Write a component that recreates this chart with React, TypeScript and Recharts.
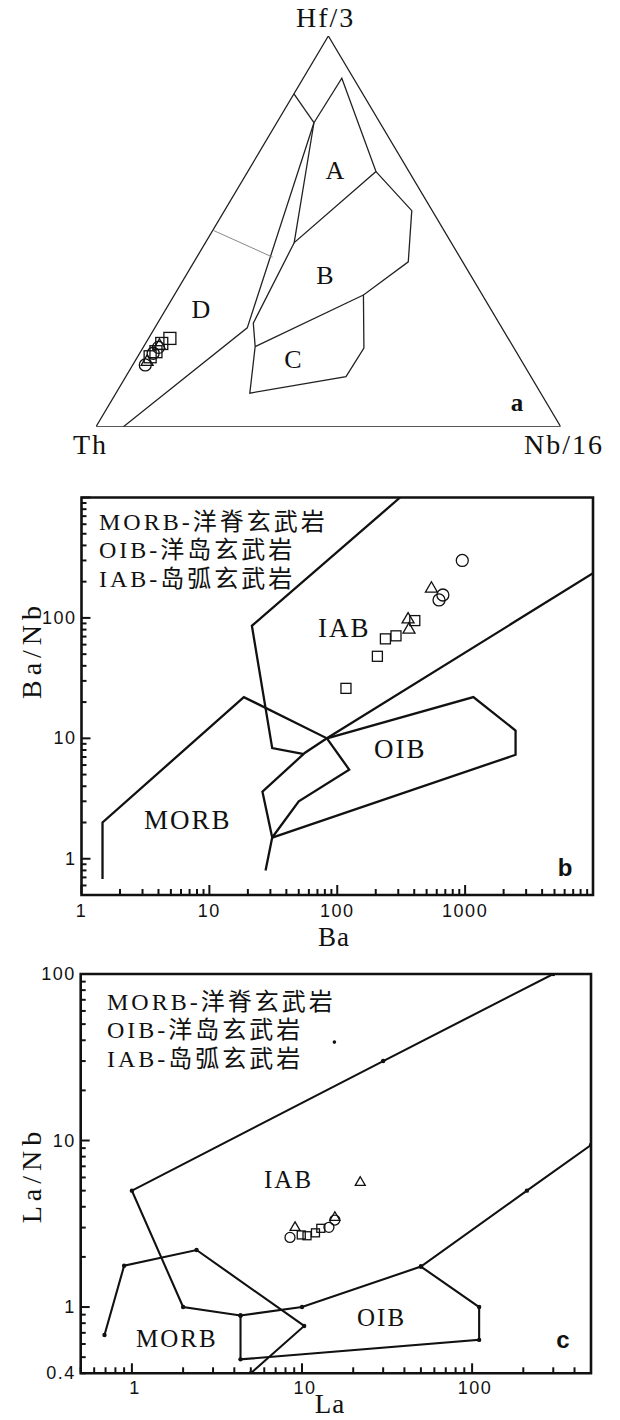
import React from 'react';
import { ScatterChart, Scatter, XAxis, YAxis, ReferenceArea } from 'recharts';

// ---------------- Panel a : Hf/3 - Th - Nb/16 ternary (values in %, order [Th, Hf/3, Nb/16]) ----------------
const aOutline = [[100, 0, 0], [0, 100, 0], [0, 0, 100], [100, 0, 0]];
const aDTop = [[14.8, 85.2, 0], [14.2, 77.8, 8.0]];
const aFieldA = [[14.2, 77.8, 8.0], [2.5, 89.2, 8.3], [7.1, 65.3, 27.6], [33.8, 47.1, 19.1], [14.2, 77.8, 8.0]];
const aDRight = [[94.1, 0, 5.9], [54.8, 25.3, 19.9], [14.2, 77.8, 8.0]];
const aFieldBC = [[33.8, 47.1, 19.1], [52.9, 26.5, 20.6], [55.5, 20.5, 24.0], [62.6, 8.6, 28.8], [39.8, 12.8, 47.4], [32.3, 20.1, 47.6], [25.6, 33.7, 40.7], [11.7, 42.2, 46.1], [4.4, 55.3, 40.3], [7.1, 65.3, 27.6]];
const aLineBC = [[55.5, 20.5, 24.0], [25.6, 33.7, 40.7]];
const aGray = [[49.7, 50.3, 0], [40.3, 43.4, 16.3]];
const aSquares = [[72.8, 22.6, 4.6], [79.4, 17.9, 2.7], [77.5, 19.2, 3.3], [75.2, 21.3, 3.5]];
const aCircles = [[81.5, 15.8, 2.7], [78.3, 18.8, 2.9], [76.4, 20.3, 3.3]];
const aTriangles = [[80.7, 16.6, 2.7], [76.0, 20.7, 3.3]];

// ---------------- Panel b : Ba vs Ba/Nb ----------------
const bMorb = [[1.46, 0.68], [1.46, 2.0], [18.6, 22], [83, 10], [124, 5.5], [50, 3.0], [31, 1.5]];
const bIabUpper = [[310, 1000], [21.5, 86], [31, 8.3], [55, 7.4]];
const bIabLower = [[10000, 235], [83, 10], [56, 7.6], [26, 3.6], [31, 1.5], [27.5, 0.8]];
const bOib = [[31, 1.5], [2480, 7.3], [2480, 11.6], [1160, 22], [83, 10]];
const bSquares = [[404, 95], [288, 71], [238, 67], [206, 48], [117, 26]];
const bTriangles = [[545, 175], [358, 97], [364, 80]];
const bCircles = [[950, 300], [670, 155], [625, 141]];
const bXLabels = [1, 10, 100, 1000];
const bYLabels = [1, 10, 100];

// ---------------- Panel c : La vs La/Nb ----------------
const cIab = [[300, 100], [30, 30], [1, 5], [2, 1], [4.35, 0.89], [10, 1.0], [50, 1.75], [210, 5], [500, 9.4]];
const cMorb = [[0.69, 0.68], [0.9, 1.77], [2.4, 2.2], [10.3, 0.77], [5, 0.4]];
const cOib = [[4.35, 0.89], [4.35, 0.485], [110, 0.635], [110, 1.0], [50, 1.75]];
const cStray = [[15.5, 39]];
const cSquares = [[9.9, 2.71], [10.7, 2.68], [12.0, 2.79], [12.9, 2.97]];
const cCircles = [[8.5, 2.62], [14.4, 3.01], [15.6, 3.33]];
const cTriangles = [[22, 5.6], [9.1, 3.0], [15.6, 3.45]];
const cXLabels = [1, 10, 100];
const cYLabels = [0.4, 1, 10, 100];

const legendLines = ['MORB-洋脊玄武岩', 'OIB-洋岛玄武岩', 'IAB-岛弧玄武岩'];

// ---------------- helpers ----------------
const ter = (arr: number[][]) =>
  arr.map((p) => {
    const s = p[0] + p[1] + p[2];
    const hf = p[1] / s;
    const nb = p[2] / s;
    return { x: nb + hf / 2, y: hf };
  });
const xy = (arr: number[][]) => arr.map((p) => ({ x: p[0], y: p[1] }));
const logTicks = (from: number, to: number) => {
  const out: number[] = [];
  for (let d = from; d <= to; d *= 10) {
    for (let k = 1; k <= 9; k++) out.push(+(k * d).toPrecision(6));
  }
  return out;
};
const bXTicks = logTicks(1, 1000).concat([10000]);
const bYTicks = [0.5, 0.6, 0.7, 0.8, 0.9].concat(logTicks(1, 100)).concat([1000]);
const cXTicks = [0.5, 0.6, 0.7, 0.8, 0.9].concat(logTicks(1, 10)).concat([100, 200, 300, 400, 500]);
const cYTicks = [0.4, 0.5, 0.6, 0.7, 0.8, 0.9].concat(logTicks(1, 10)).concat([100]);

const SERIF = "'Liberation Serif', 'Noto Sans CJK SC', serif";
const SANS = "'Liberation Sans', Arial, sans-serif";
const INK = '#111';

const noShape = () => <g />;
const dot = (r: number) => (p: any) => <circle cx={p.cx} cy={p.cy} r={r} fill={INK} />;
const sq = (s: number) => (p: any) => (
  <rect x={p.cx - s / 2} y={p.cy - s / 2} width={s} height={s} fill="none" stroke={INK} strokeWidth={1.3} />
);
const ci = (r: number) => (p: any) => <circle cx={p.cx} cy={p.cy} r={r} fill="none" stroke={INK} strokeWidth={1.3} />;
const tri = (s: number) => (p: any) => {
  const h = s * 0.866;
  const pts = `${p.cx},${p.cy - (h * 2) / 3} ${p.cx - s / 2},${p.cy + h / 3} ${p.cx + s / 2},${p.cy + h / 3}`;
  return <polygon points={pts} fill="none" stroke={INK} strokeWidth={1.3} />;
};

const isMajor = (v: number) => {
  const lg = Math.log10(v);
  return Math.abs(lg - Math.round(lg)) < 1e-6;
};
const inList = (v: number, l: number[]) => l.some((q) => Math.abs(q - v) < 1e-9);

// bottom axis has height 1, so its tick anchor sits 1px below the plot edge
const makeXTick = (labels: number[], dx: number, dy: number) => (props: any) => {
  const { x, payload } = props;
  const y = props.y - 1;
  const v = payload.value;
  const len = isMajor(v) ? 9 : 5;
  return (
    <g>
      <line x1={x} y1={y} x2={x} y2={y - len} stroke={INK} strokeWidth={2} />
      {inList(v, labels) && (
        <text x={x + dx} y={y + dy} textAnchor="middle" fontFamily={SANS} fontSize={18} letterSpacing={1.5} fill={INK}>
          {String(v)}
        </text>
      )}
    </g>
  );
};
const makeYTick = (labels: number[], dx: number, dy: number) => (props: any) => {
  const { x, y, payload } = props;
  const v = payload.value;
  const len = isMajor(v) ? 9 : 5;
  return (
    <g>
      <line x1={x} y1={y} x2={x + len} y2={y} stroke={INK} strokeWidth={2} />
      {inList(v, labels) && (
        <text x={x + dx} y={y + dy} textAnchor="end" fontFamily={SANS} fontSize={18} letterSpacing={1.5} fill={INK}>
          {String(v)}
        </text>
      )}
    </g>
  );
};

const T = (props: any) => <text fontFamily={SERIF} fill={INK} {...props} />;
const overlayStyle: React.CSSProperties = { position: 'absolute', left: 0, top: 0, pointerEvents: 'none', overflow: 'visible' };

// ---------------- Panels ----------------
function PanelA() {
  const line = (d: number[][], key: string, stroke = '#222', w = 1.3) => (
    <Scatter key={key} data={ter(d)} line={{ stroke, strokeWidth: w }} shape={noShape} isAnimationActive={false} />
  );
  return (
    <div style={{ position: 'absolute', left: 0, top: 0, width: 620, height: 470 }}>
      <ScatterChart width={620} height={470} margin={{ top: 36, right: 59.3, bottom: 43.3, left: 96 }}>
        <XAxis type="number" dataKey="x" domain={[0, 1]} hide allowDataOverflow />
        <YAxis type="number" dataKey="y" domain={[0, 1]} hide allowDataOverflow />
        {line(aOutline, 'o', '#222', 1.3)}
        {line(aDTop, 'dt')}
        {line(aFieldA, 'fa')}
        {line(aDRight, 'dr')}
        {line(aFieldBC, 'fbc')}
        {line(aLineBC, 'lbc')}
        {line(aGray, 'g', '#888', 1)}
        <Scatter data={ter(aSquares)} shape={sq(12)} isAnimationActive={false} />
        <Scatter data={ter(aCircles)} shape={ci(6)} isAnimationActive={false} />
        <Scatter data={ter(aTriangles)} shape={tri(12)} isAnimationActive={false} />
      </ScatterChart>
      <svg width={620} height={470} style={overlayStyle}>
        <T x={296} y={27} fontSize={28} letterSpacing={2}>Hf/3</T>
        <T x={73} y={454} fontSize={28} letterSpacing={2}>Th</T>
        <T x={524} y={454} fontSize={28} letterSpacing={2}>Nb/16</T>
        <T x={335} y={179} fontSize={26} textAnchor="middle">A</T>
        <T x={325} y={284} fontSize={26} textAnchor="middle">B</T>
        <T x={293} y={368} fontSize={26} textAnchor="middle">C</T>
        <T x={201} y={318} fontSize={26} textAnchor="middle">D</T>
        <T x={517} y={411} fontSize={25} fontWeight="bold" textAnchor="middle">a</T>
      </svg>
    </div>
  );
}

function PanelB() {
  const line = (d: number[][], key: string) => (
    <Scatter key={key} data={xy(d)} line={{ stroke: INK, strokeWidth: 2.3 }} shape={noShape} isAnimationActive={false} />
  );
  return (
    <div style={{ position: 'absolute', left: 0, top: 470, width: 620, height: 480 }}>
      <ScatterChart width={620} height={480} margin={{ top: 27.5, right: 27, bottom: 54, left: 80.5 }}>
        <XAxis type="number" dataKey="x" scale="log" domain={[1, 10000]} allowDataOverflow ticks={bXTicks} interval={0}
          height={1} tickSize={0} tickMargin={0} tickLine={false} axisLine={false} tick={makeXTick(bXLabels, 0, 23)} />
        <YAxis type="number" dataKey="y" scale="log" domain={[0.5, 1000]} allowDataOverflow ticks={bYTicks} interval={0}
          width={1} tickSize={0} tickMargin={0} tickLine={false} axisLine={false} tick={makeYTick(bYLabels, -5, 6)} />
        {line(bMorb, 'm')}
        {line(bIabUpper, 'iu')}
        {line(bIabLower, 'il')}
        {line(bOib, 'ob')}
        <Scatter data={xy(bSquares)} shape={sq(10)} isAnimationActive={false} />
        <Scatter data={xy(bTriangles)} shape={tri(12)} isAnimationActive={false} />
        <Scatter data={xy(bCircles)} shape={ci(6)} isAnimationActive={false} />
        <ReferenceArea x1={1} x2={10000} y1={0.5} y2={1000} fill="none" stroke={INK} strokeWidth={2.6} ifOverflow="visible" />
      </ScatterChart>
      <svg width={620} height={480} style={overlayStyle}>
        {legendLines.map((s, i) => (
          <T key={s} x={99} y={60 + i * 28.3} fontSize={24} letterSpacing={3}>{s}</T>
        ))}
        <T x={318} y={166.7} fontSize={27} letterSpacing={2}>IAB</T>
        <T x={374} y={287.7} fontSize={27} letterSpacing={2}>OIB</T>
        <T x={144} y={359.3} fontSize={27} letterSpacing={2}>MORB</T>
        <text x={565} y={406} fontFamily={SANS} fontWeight="bold" fontSize={24} textAnchor="middle" fill={INK}>b</text>
        <T x={334} y={476} fontSize={27} textAnchor="middle" letterSpacing={1}>Ba</T>
        <T x={41} y={180} fontSize={28} textAnchor="middle" letterSpacing={5} transform="rotate(-90 41 180)">Ba/Nb</T>
      </svg>
    </div>
  );
}

function PanelC() {
  const line = (d: number[][], key: string) => (
    <Scatter key={key} data={xy(d)} line={{ stroke: INK, strokeWidth: 2.1 }} shape={dot(2.2)} isAnimationActive={false} />
  );
  return (
    <div style={{ position: 'absolute', left: 0, top: 950, width: 620, height: 470 }}>
      <ScatterChart width={620} height={470} margin={{ top: 24, right: 29, bottom: 45.7, left: 79.7 }}>
        <XAxis type="number" dataKey="x" scale="log" domain={[0.5, 500]} allowDataOverflow ticks={cXTicks} interval={0}
          height={1} tickSize={0} tickMargin={0} tickLine={false} axisLine={false} tick={makeXTick(cXLabels, 3, 22)} />
        <YAxis type="number" dataKey="y" scale="log" domain={[0.4, 100]} allowDataOverflow ticks={cYTicks} interval={0}
          width={1} tickSize={0} tickMargin={0} tickLine={false} axisLine={false} tick={makeYTick(cYLabels, -5, 6)} />
        {line(cIab, 'i')}
        {line(cMorb, 'm')}
        {line(cOib, 'o')}
        <Scatter data={xy(cStray)} shape={dot(1.8)} isAnimationActive={false} />
        <Scatter data={xy(cSquares)} shape={sq(8)} isAnimationActive={false} />
        <Scatter data={xy(cCircles)} shape={ci(5)} isAnimationActive={false} />
        <Scatter data={xy(cTriangles)} shape={tri(10)} isAnimationActive={false} />
        <ReferenceArea x1={0.5} x2={500} y1={0.4} y2={100} fill="none" stroke={INK} strokeWidth={2.6} ifOverflow="visible" />
      </ScatterChart>
      <svg width={620} height={470} style={overlayStyle}>
        {legendLines.map((s, i) => (
          <T key={s} x={107} y={60 + i * 28.3} fontSize={24} letterSpacing={3}>{s}</T>
        ))}
        <T x={264} y={238} fontSize={25} letterSpacing={2}>IAB</T>
        <T x={357} y={376} fontSize={25} letterSpacing={2}>OIB</T>
        <T x={136} y={396.7} fontSize={25} letterSpacing={2}>MORB</T>
        <text x={563} y={398} fontFamily={SANS} fontWeight="bold" fontSize={24} textAnchor="middle" fill={INK}>c</text>
        <T x={330} y={463} fontSize={27} textAnchor="middle" letterSpacing={1}>La</T>
        <T x={41} y={225} fontSize={28} textAnchor="middle" letterSpacing={5} transform="rotate(-90 41 225)">La/Nb</T>
      </svg>
    </div>
  );
}

export default function App() {
  return (
    <div style={{ position: 'absolute', left: 0, top: 0, width: 620, height: 1420, background: '#fff', overflow: 'hidden' }}>
      <PanelA />
      <PanelB />
      <PanelC />
    </div>
  );
}
